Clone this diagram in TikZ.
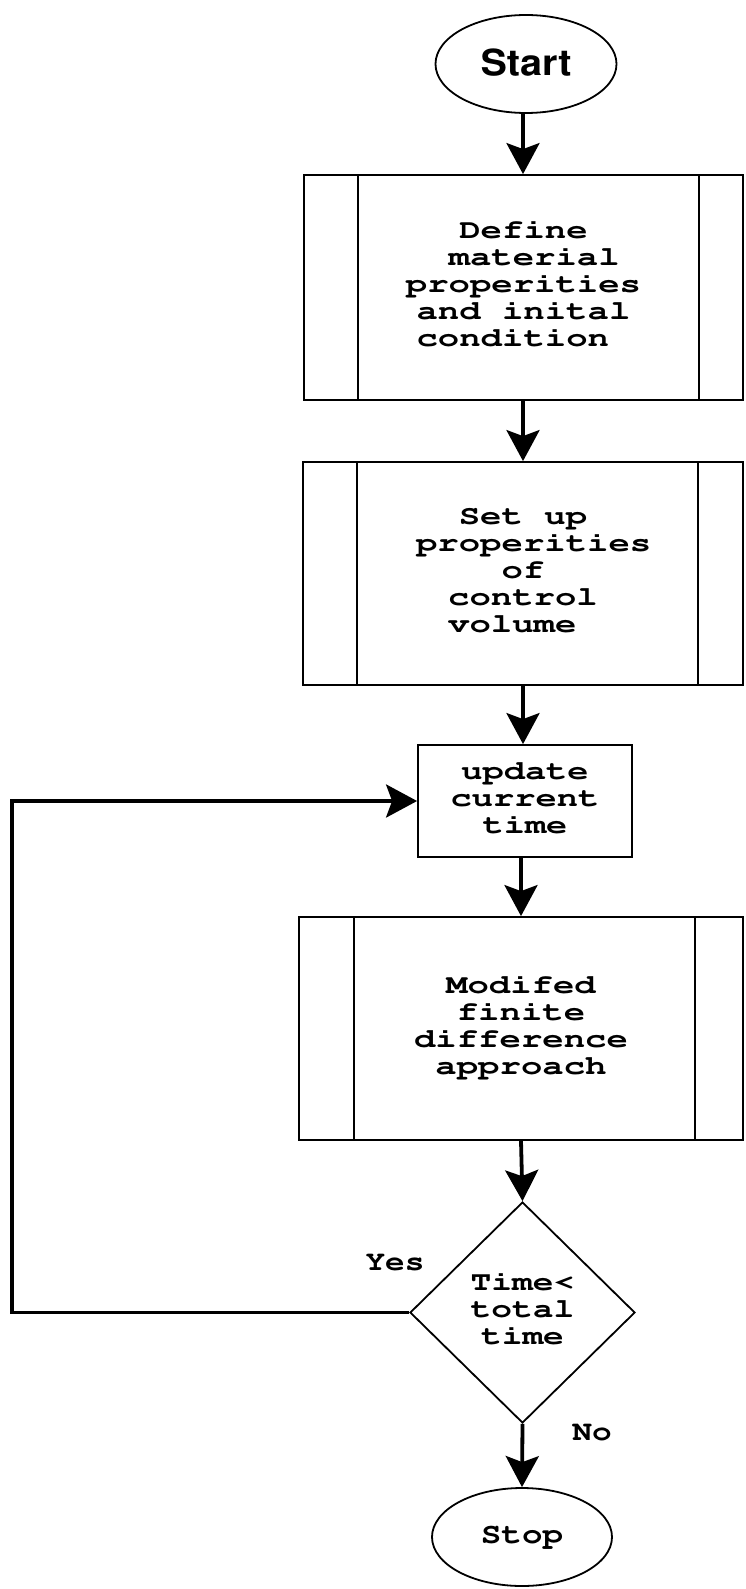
\documentclass[tikz,border=0pt]{standalone}
\usepackage[T1]{fontenc}
\usepackage{graphicx}
\usetikzlibrary{shapes.geometric,arrows.meta,calc}

% Courier for the process text, Helvetica bold for the start terminal
\newcommand{\mono}{\fontfamily{pcr}\fontseries{b}\selectfont}
\newcommand{\helv}{\fontfamily{phv}\fontseries{b}\selectfont}
% horizontally widened, centred block of lines
\newcommand{\wtext}[2]{\scalebox{#1}[1]{\begin{tabular}{@{}c@{}}#2\end{tabular}}}
\newcommand{\gap}{\hphantom{x}}

\begin{document}
\begin{tikzpicture}[x=1pt,y=-1pt,
  frame/.style={draw, line width=1.8pt, inner sep=0pt},
  procbox/.style={frame, rectangle, font=\fontsize{27}{27}\mono},
  terminal/.style={frame, ellipse},
  decision/.style={frame, diamond, font=\fontsize{27}{27}\mono},
  bar/.style={line width=1.4pt},
  flow/.style={line width=3.8pt, -{Stealth[length=31pt,width=33pt,inset=6pt]}},
  tag/.style={inner sep=0pt, font=\fontsize{28}{28}\mono}
]
\useasboundingbox (0,0) rectangle (745,1589);
\fill[white] (0,0) rectangle (745,1589);

% terminals and steps
\node[terminal, minimum width=181pt, minimum height=98pt,
      font=\fontsize{36}{36}\helv] (start) at (526,64) {\raisebox{4pt}{\scalebox{1.1}[1]{Start}}};

\node[procbox, minimum width=439pt, minimum height=225pt] (def) at (523.5,287.5)
  {\wtext{1.32}{Define\\ \gap material\\ properities\\ and inital\\ condition\gap}};

\node[procbox, minimum width=440pt, minimum height=223pt] (cv) at (523,573.5)
  {\wtext{1.32}{Set up\\ \gap properities\\ of\\ control\\ volume\gap}};

\node[procbox, minimum width=214pt, minimum height=112pt] (upd) at (525,801)
  {\wtext{1.31}{update\\ current\\ time}};

\node[procbox, minimum width=444pt, minimum height=223pt] (fd) at (521,1028.5)
  {\wtext{1.32}{Modifed\\ finite\\ difference\\ approach}};

\node[decision, minimum width=225pt, minimum height=221pt] (chk) at (522.5,1312.5)
  {\wtext{1.28}{Time<\\ total\\ time}};

\node[terminal, minimum width=180pt, minimum height=98pt,
      font=\fontsize{29}{29}\mono] (stop) at (522,1537) {\scalebox{1.18}[1]{Stop}};

% side bars of the predefined-process boxes
\draw[bar] ($(def.north west)+(55,0)$) -- ($(def.south west)+(55,0)$);
\draw[bar] ($(def.north east)+(-45,0)$) -- ($(def.south east)+(-45,0)$);
\draw[bar] ($(cv.north west)+(55,0)$) -- ($(cv.south west)+(55,0)$);
\draw[bar] ($(cv.north east)+(-46,0)$) -- ($(cv.south east)+(-46,0)$);
\draw[bar] ($(fd.north west)+(56,0)$) -- ($(fd.south west)+(56,0)$);
\draw[bar] ($(fd.north east)+(-49,0)$) -- ($(fd.south east)+(-49,0)$);

% flow lines
\coordinate (ax) at (523,0);
\coordinate (lx) at (12,0);
\draw[flow] (start.south -| ax) -- (def.north -| ax);
\draw[flow] (def.south -| ax) -- (cv.north -| ax);
\draw[flow] (cv.south -| ax) -- (upd.north -| ax);
\draw[flow] (upd.south -| fd) -- (fd.north);
\draw[flow] (fd.south) -- (chk.north);
\draw[flow] (chk.south) -- (stop.north);
\draw[flow] (chk.west) -- (chk.west -| lx) |- (upd.west);

% branch labels
\node[tag] (yes) at (395,1263) {\scalebox{1.17}[1]{Yes}};
\node[tag] (no) at (592,1433) {\scalebox{1.17}[1]{No}};
\end{tikzpicture}
\end{document}
